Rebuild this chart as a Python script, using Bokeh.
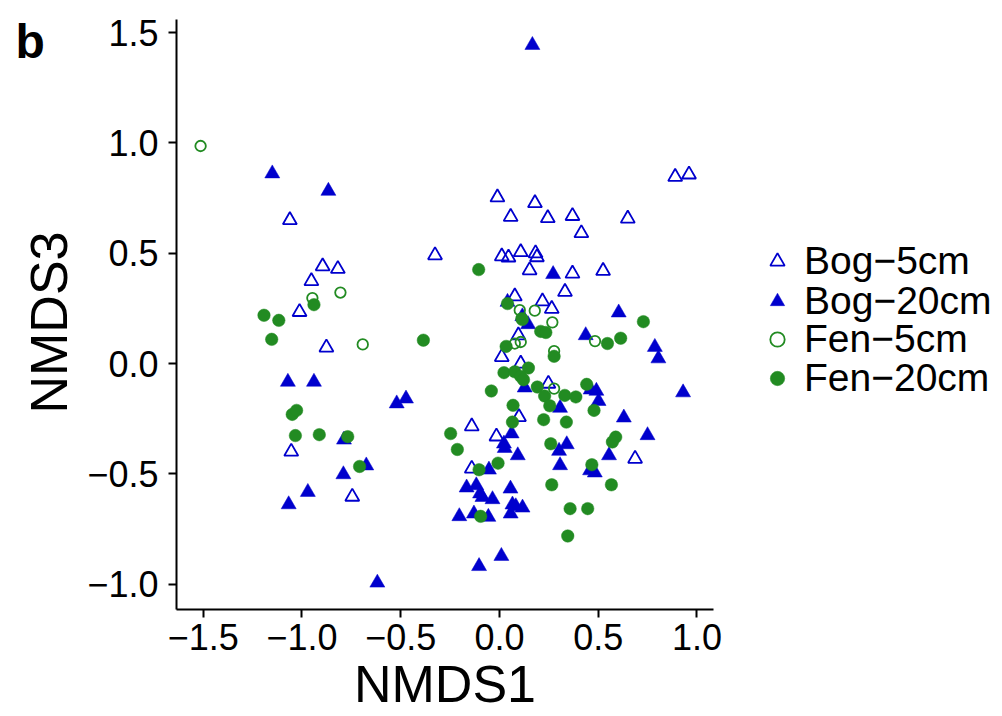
from bokeh.plotting import figure
from bokeh.layouts import row
from bokeh.models import Range1d, FixedTicker, Legend, LegendItem, Label
from bokeh.embed import file_html
from bokeh.resources import INLINE
import math

# ---- data (NMDS1, NMDS3) ----
bog5_x = [-1.061, -0.326, -0.895, -0.818, -0.952, -1.012, -0.876, -1.054, -0.745,
          0.890, 0.960, -0.010, 0.180, 0.057, 0.245, 0.370, 0.415, 0.650,
          0.012, 0.046, 0.108, 0.183, 0.190, 0.153, 0.370, 0.525, 0.332,
          0.078, 0.218, 0.265, 0.096, 0.012, 0.108, 0.248, -0.140, -0.015,
          0.099, -0.140, 0.687]
bog5_y = [0.650, 0.491, 0.441, 0.429, 0.374, 0.234, 0.073, -0.399, -0.603,
          0.846, 0.857, 0.753, 0.727, 0.665, 0.659, 0.669, 0.591, 0.657,
          0.486, 0.481, 0.505, 0.500, 0.482, 0.423, 0.408, 0.420, 0.325,
          0.305, 0.282, 0.248, 0.128, 0.030, 0.000, -0.091, -0.284, -0.330,
          -0.242, -0.476, -0.431]

bog20_x = [-1.150, -0.866, -1.071, -0.939, -0.787, -0.674, -0.790, -0.970, -1.067,
           -0.618, -0.520, -0.473, 0.167, 0.272, 0.604, 0.041, 0.116, 0.145,
           0.128, 0.307, 0.437, 0.787, 0.805, 0.930, 0.462, 0.491, 0.502,
           0.630, 0.750, 0.555, 0.459, 0.483, 0.341, 0.302, 0.307, 0.062,
           0.023, 0.027, 0.093, -0.053, -0.166, -0.117, -0.098, -0.086, -0.035,
           0.056, 0.066, 0.083, 0.117, 0.057, -0.203, -0.129, -0.056, 0.010,
           -0.103]
bog20_y = [0.861, 0.782, -0.083, -0.083, -0.345, -0.462, -0.502, -0.582, -0.638,
           -0.993, -0.181, -0.159, 1.443, 0.405, 0.231, 0.279, 0.214, 0.178,
           -0.109, -0.201, 0.128, 0.075, 0.023, -0.131, -0.118, -0.124, -0.170,
           -0.245, -0.325, -0.416, -0.484, -0.494, -0.366, -0.396, -0.461, -0.317,
           -0.363, -0.383, -0.416, -0.481, -0.562, -0.552, -0.589, -0.605, -0.615,
           -0.567, -0.639, -0.647, -0.653, -0.680, -0.692, -0.680, -0.695, -0.872,
           -0.918]

fen5_x = [-1.513, -0.805, -0.947, -0.692, 0.103, 0.179, 0.112, 0.268, 0.078,
          0.108, 0.277, 0.277, 0.484]
fen5_y = [0.986, 0.322, 0.297, 0.087, 0.242, 0.240, 0.205, 0.187, 0.091,
          0.098, 0.057, -0.113, 0.102]

fen20_x = [-0.939, -1.192, -1.117, -1.153, -1.049, -1.027, -1.033, -0.912, -0.768,
           -0.708, -0.385, -0.247, -0.105, 0.729, 0.041, 0.116, 0.209, 0.235,
           0.034, 0.277, 0.023, 0.078, 0.147, 0.108, 0.122, -0.041, 0.192,
           0.229, 0.331, 0.387, 0.255, 0.069, 0.547, 0.614, 0.442, 0.479,
           0.224, 0.339, 0.589, 0.572, 0.468, 0.567, 0.265, 0.358, 0.447,
           0.346, 0.260, -0.213, 0.066, -0.007, -0.103, -0.095]
fen20_y = [0.267, 0.219, 0.196, 0.110, -0.230, -0.212, -0.326, -0.322, -0.331,
           -0.466, 0.106, -0.317, 0.426, 0.190, 0.272, 0.200, 0.146, 0.141,
           0.078, 0.033, -0.041, -0.037, -0.020, -0.058, -0.073, -0.124, -0.106,
           -0.147, -0.144, -0.151, -0.191, -0.189, 0.091, 0.115, -0.094, -0.212,
           -0.254, -0.265, -0.333, -0.355, -0.458, -0.549, -0.549, -0.657, -0.657,
           -0.781, -0.363, -0.389, -0.265, -0.451, -0.481, -0.692]

x_ticks = [-1.5, -1.0, -0.5, 0.0, 0.5, 1.0]
y_ticks = [-1.0, -0.5, 0.0, 0.5, 1.0, 1.5]
labels = ["Bog\u22125cm", "Bog\u221220cm", "Fen\u22125cm", "Fen\u221220cm"]

BLUE = "#0000CD"
GREEN = "#228B22"
FONT = "Liberation Sans"
H = 716
TOP, BOTTOM = 19, 107          # border sizes shared by the three panels
FB = H - BOTTOM                # canvas y of the frame bottom

styles = [dict(marker="triangle", size=14, fill_color=None, line_color=BLUE, line_width=1.8),
          dict(marker="triangle", size=15, fill_color=BLUE, line_color=BLUE, line_width=0.5),
          dict(marker="circle", size=10.5, fill_color=None, line_color=GREEN, line_width=1.8),
          dict(marker="circle", size=12.5, fill_color=GREEN, line_color=GREEN, line_width=0.5)]
series = [(bog5_x, bog5_y), (bog20_x, bog20_y), (fen5_x, fen5_y), (fen20_x, fen20_y)]


def blank(width):
    f = figure(width=width, height=H, output_backend="svg", toolbar_location=None,
               x_range=Range1d(100, 101), y_range=Range1d(100, 101),
               x_axis_location=None, y_axis_location=None,
               min_border_left=0, min_border_right=0, min_border_top=TOP,
               min_border_bottom=BOTTOM)
    f.outline_line_color = None
    f.xgrid.visible = False
    f.ygrid.visible = False
    f.background_fill_color = "white"
    f.border_fill_color = "white"
    return f


# ---- left strip: panel tag and y-axis title ----
left = blank(80)
left.add_layout(Label(x=15, y=FB - 41, x_units="screen", y_units="screen", text="b",
                      text_font=FONT, text_font_size="48px", text_font_style="bold",
                      text_color="black", text_baseline="alphabetic", text_align="left"))
left.add_layout(Label(x=48, y=FB - 322, x_units="screen", y_units="screen", text="NMDS3",
                      angle=math.pi / 2, text_font=FONT, text_font_size="52px",
                      text_color="black", text_baseline="middle", text_align="center"))

# ---- main scatter ----
p = figure(width=660, height=H, output_backend="svg", toolbar_location=None,
           x_range=Range1d(-1.635, 1.084), y_range=Range1d(-1.114, 1.559),
           min_border_left=96, min_border_right=27, min_border_top=TOP,
           min_border_bottom=BOTTOM)
p.outline_line_color = None
p.xgrid.visible = False
p.ygrid.visible = False
p.background_fill_color = "white"
p.border_fill_color = "white"

for (xs, ys), st in zip(series, styles):
    p.scatter(xs, ys, **st)

for ax, ticks in ((p.xaxis[0], x_ticks), (p.yaxis[0], y_ticks)):
    ax.ticker = FixedTicker(ticks=ticks)
    ax.axis_line_width = 2
    ax.axis_line_color = "black"
    ax.major_tick_line_width = 2
    ax.major_tick_line_color = "black"
    ax.major_tick_out = 8
    ax.major_tick_in = 0
    ax.minor_tick_out = 0
    ax.minor_tick_in = 0
    ax.major_label_text_font = FONT
    ax.major_label_text_font_size = "36px"
    ax.major_label_text_color = "black"
    ax.major_label_overrides = {t: f"{t:.1f}".replace("-", "\u2212") for t in ticks}

p.xaxis[0].axis_label = "NMDS1"
p.xaxis[0].axis_label_text_font = FONT
p.xaxis[0].axis_label_text_font_size = "52px"
p.xaxis[0].axis_label_text_font_style = "normal"
p.xaxis[0].axis_label_text_color = "black"
p.xaxis[0].major_label_standoff = 6
p.xaxis[0].axis_label_standoff = 2
p.yaxis[0].major_label_standoff = 10

# ---- legend strip ----
leg = blank(262)
row_centers = [261, 301, 339, 378]
for (xs, ys), st, lab, cy in zip(series, styles, labels, row_centers):
    proxy = leg.scatter(xs, ys, **st)
    lg = Legend(items=[LegendItem(label=lab, renderers=[proxy])],
                location=(19, FB - cy - 22), border_line_color=None,
                background_fill_alpha=0, padding=0, margin=0,
                glyph_width=36, glyph_height=36, label_standoff=9, spacing=0,
                label_text_font=FONT, label_text_font_size="39px",
                label_text_color="black")
    leg.add_layout(lg, "center")

layout = row(left, p, leg, spacing=0)
open("out.html", "w").write(file_html(layout, INLINE))
